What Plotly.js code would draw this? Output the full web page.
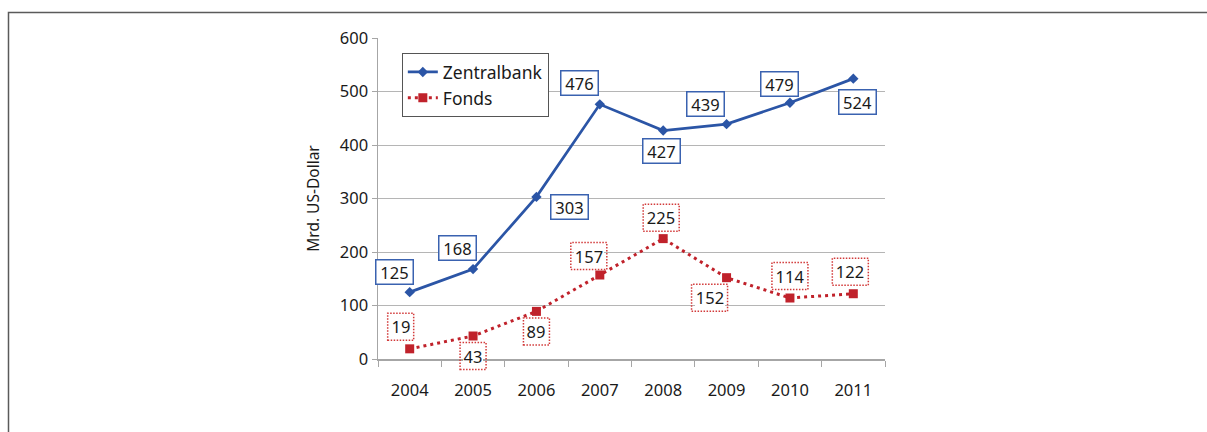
<!DOCTYPE html>
<html><head><meta charset="utf-8">
<script src="https://cdn.plot.ly/plotly-3.0.1.min.js"></script>
<style>html,body{margin:0;padding:0;background:#fff}#chart{width:1207px;height:432px}</style>
</head><body><div id="chart"></div>
<script>
const years = ['2004','2005','2006','2007','2008','2009','2010','2011'];
const zentralbank = [125,168,303,476,427,439,479,524];
const fonds = [19,43,89,157,225,152,114,122];
const seriesNames = ['Zentralbank','Fonds'];
const yTitle = 'Mrd. US-Dollar';
const yMax = 600;

// label offsets in px (dx right, dy up)
const zbOffsets = [[-15,20],[-16,21],[33,-10],[-20,21],[-2,-20],[-21,20],[-10,19],[4,-23]];
const fdOffsets = [[-9,22],[0,-20],[0,-20],[-11,19],[-2,21],[-17,-20],[0,22],[-3,22]];

const BLUE = '#2b55a6', RED = '#c0222b';
const FONT = 'Noto Sans, Open Sans, sans-serif';
const fs = 16.5;

const traces = [
  {x: years, y: zentralbank, name: seriesNames[0], type: 'scatter', mode: 'lines+markers',
   line: {color: BLUE, width: 2.75}, marker: {symbol: 'diamond', size: 8, color: BLUE}},
  {x: years, y: fonds, name: seriesNames[1], type: 'scatter', mode: 'lines+markers',
   line: {color: RED, width: 3, dash: '3px,4px'}, marker: {symbol: 'square', size: 9, color: RED}}
];

const annotations = [], shapes = [];
// legend shadow
shapes.push({type: 'rect', xref: 'paper', yref: 'paper', xsizemode: 'pixel', ysizemode: 'pixel',
  xanchor: 0.047, yanchor: 0.953, x0: 3, x1: 145, y0: -63, y1: -3,
  fillcolor: '#c9c9c9', line: {width: 0}, layer: 'above'});
zentralbank.forEach((v, i) => {
  const [dx, dy] = zbOffsets[i];
  const w = String(v).length * 10 + 4;
  annotations.push({x: i, y: v, xref: 'x', yref: 'y', text: String(v), showarrow: false,
    xshift: dx, yshift: dy, font: {family: FONT, size: fs, color: '#1a1a1a'},
    bgcolor: '#fff', bordercolor: '#3a62b0', borderwidth: 1.5, borderpad: 1, width: w, height: 21});
});
fonds.forEach((v, i) => {
  const [dx, dy] = fdOffsets[i];
  const w = String(v).length * 10 + 6;
  const h = 27;
  annotations.push({x: i, y: v, xref: 'x', yref: 'y', text: String(v), showarrow: false,
    xshift: dx, yshift: dy, font: {family: FONT, size: fs, color: '#1a1a1a'},
    bgcolor: '#fff', borderwidth: 0, borderpad: 0, width: w - 6, height: h - 6});
  // paper-referenced so the box is not clipped at the plot edge
  shapes.push({type: 'rect', xref: 'paper', yref: 'paper', xsizemode: 'pixel', ysizemode: 'pixel',
    xanchor: (i + 0.5) / years.length, yanchor: v / yMax,
    x0: dx - w / 2, x1: dx + w / 2, y0: dy - h / 2, y1: dy + h / 2,
    line: {color: '#d23a3a', width: 1.5, dash: '1.5px,1.5px'}, layer: 'above'});
});
// outer frame
shapes.push({type: 'rect', xref: 'paper', yref: 'paper', x0: -0.7288, x1: 1.9, y0: -0.6, y1: 1.0794,
  line: {color: '#5a5a5a', width: 1.5}, layer: 'below'});

const layout = {
  width: 1207, height: 432,
  margin: {l: 378, r: 322, t: 38, b: 73},
  paper_bgcolor: '#fff', plot_bgcolor: '#fff',
  font: {family: FONT, size: fs, color: '#1a1a1a'},
  showlegend: true,
  legend: {x: 0.047, y: 0.953, xanchor: 'left', yanchor: 'top', bgcolor: '#fff',
    bordercolor: '#555', borderwidth: 1, font: {family: FONT, size: 17.5, color: '#1a1a1a'},
    itemwidth: 30, tracegroupgap: 0},
  xaxis: {type: 'category', range: [-0.5, 7.5], showline: true, linecolor: '#a6a6a6', linewidth: 1.5,
    ticks: 'outside', tickson: 'boundaries', ticklen: 6, tickcolor: '#a6a6a6', showgrid: false,
    tickfont: {family: FONT, size: fs, color: '#1a1a1a'}, ticklabelstandoff: 16, fixedrange: true},
  yaxis: {range: [0, yMax], dtick: 100, showline: true, linecolor: '#a6a6a6', linewidth: 1.5,
    ticks: 'outside', ticklen: 5, tickcolor: '#a6a6a6', gridcolor: '#b5b5b5', gridwidth: 1,
    zeroline: false, tickfont: {family: FONT, size: fs, color: '#1a1a1a'},
    title: {text: yTitle, font: {family: FONT, size: 15.5, color: '#1a1a1a'}, standoff: 16}, fixedrange: true},
  annotations: annotations,
  shapes: shapes
};
Plotly.newPlot('chart', traces, layout, {displayModeBar: false, staticPlot: true})
  .catch(e => { document.body.insertAdjacentHTML('beforeend', '<pre>' + e + '</pre>'); });
</script></body></html>
